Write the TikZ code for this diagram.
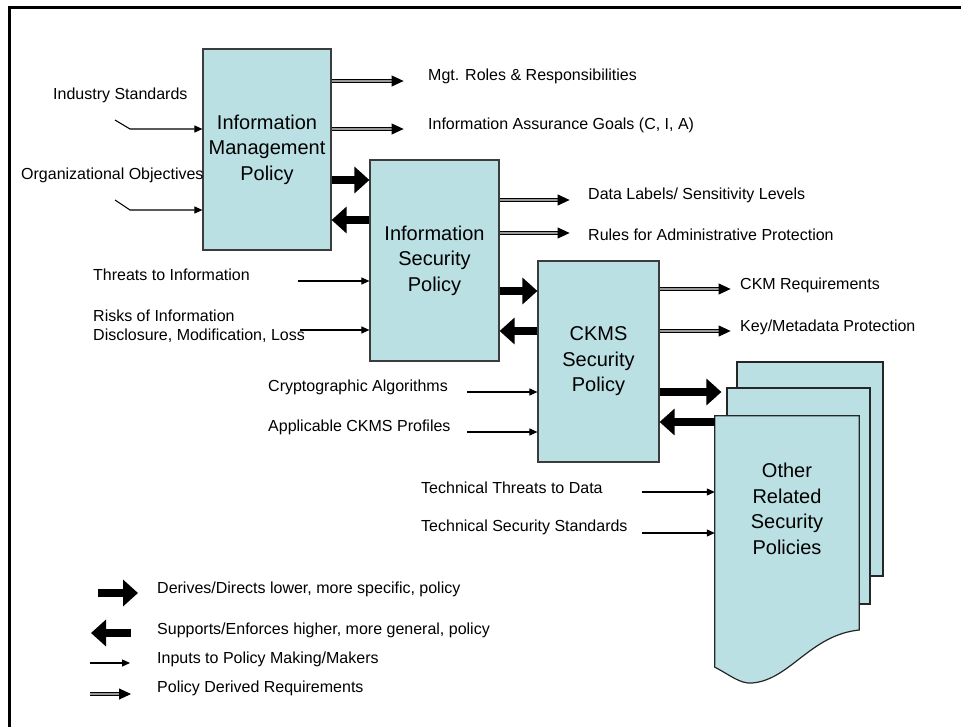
\documentclass[tikz,border=0pt]{standalone}
\usepackage{fontspec}
\setmainfont{Liberation Sans}
\usetikzlibrary{arrows.meta}
\definecolor{policyfill}{RGB}{187,224,227}
\definecolor{policyline}{RGB}{60,60,60}
\tikzset{
  policy/.style={draw=policyline,line width=1.2pt,fill=policyfill,align=center,inner sep=0pt,font=\fontsize{20}{25.5}\selectfont},
  page/.style={draw=black!85,line width=1.2pt,fill=policyfill,inner sep=0pt},
  lbl/.style={anchor=west,inner sep=0pt,align=left,font=\fontsize{16}{19}\selectfont},
  derive/.style={line width=8.5pt,-{Triangle[length=15pt,width=26pt]}},
  input/.style={line width=1.1pt,-{Triangle[length=8pt,width=7pt]}},
  req/.style={double=black!40,double distance=1.6pt,line width=0.9pt,-{Triangle[length=12pt,width=11pt]}}
}
\begin{document}
\begin{tikzpicture}[x=1pt,y=-1pt]
      \useasboundingbox (0,0) rectangle (961,727);
      \fill[white] (0,0) rectangle (961,727);
      \clip (0,0) rectangle (961,727);
      \draw[line width=3pt] (9,8) rectangle (1000,770);

      \node[policy,minimum width=128pt,minimum height=201pt] (imp) at (267,149.5) {Information\\Management\\Policy};
      \node[policy,minimum width=129pt,minimum height=201pt] (isp) at (434.5,260.5) {Information\\Security\\Policy};
      \node[policy,minimum width=121pt,minimum height=201pt] (ckms) at (598.5,361.5) {CKMS\\Security\\Policy};

      \node[page,minimum width=146pt,minimum height=214pt] (back) at (810,469) {};
      \node[page,minimum width=143pt,minimum height=216pt] (mid) at (798.5,496) {};
      \node[inner sep=0pt,minimum width=144pt,minimum height=251pt] (front) at (787,541.5) {};
      \filldraw[draw=black!85,line width=1.2pt,fill=policyfill] (front.south west) -- (front.north west) -- (front.north east) -- (front.east |- 0,630)
        .. controls (810,635) and (790,680) .. (752,683) .. controls (740,684) and (730,675) .. (front.south west) -- cycle;
      \node[align=center,font=\fontsize{20}{25.5}\selectfont] (other) at (787,509) {Other\\Related\\Security\\Policies};

      \node[lbl] (indstd) at (53,95) {Industry Standards};
      \node[lbl] (orgobj) at (21,175) {Organizational Objectives};
      \node[lbl] (threats) at (93,275) {Threats to Information};
      \node[lbl] (risks) at (93,326.5) {Risks of Information\\Disclosure, Modification, Loss};
      \node[lbl] (crypto) at (268,387) {Cryptographic Algorithms};
      \node[lbl] (profiles) at (268,427) {Applicable CKMS Profiles};
      \node[lbl] (techthr) at (421,488) {Technical Threats to Data};
      \node[lbl] (techstd) at (421,527) {Technical Security Standards};

      \node[lbl] (mgt) at (428,76) {Mgt. Roles \& Responsibilities};
      \node[lbl] (goals) at (428,125) {Information Assurance Goals (C, I, A)};
      \node[lbl] (labels) at (588,195) {Data Labels/ Sensitivity Levels};
      \node[lbl] (rules) at (588,235) {Rules for Administrative Protection};
      \node[lbl] (ckmreq) at (740,285) {CKM Requirements};
      \node[lbl] (keyprot) at (740,327) {Key/Metadata Protection};

      \node[lbl] (lgderive) at (157,589) {Derives/Directs lower, more specific, policy};
      \node[lbl] (lgsupport) at (157,630) {Supports/Enforces higher, more general, policy};
      \node[lbl] (lginput) at (157,659) {Inputs to Policy Making/Makers};
      \node[lbl] (lgreq) at (157,688) {Policy Derived Requirements};

      \coordinate (indin) at (115,120);
      \coordinate (orgin) at (115,200);
      \coordinate (thrin) at (298,281);
      \coordinate (riskin) at (300,330);
      \coordinate (cryin) at (467,392);
      \coordinate (proin) at (467,432);
      \coordinate (tthrin) at (642,492);
      \coordinate (tstdin) at (642,533);

      \draw[input] (indin) -- ++(15,9) -- (imp.west |- 0,129);
      \draw[input] (orgin) -- ++(15,10) -- (imp.west |- 0,210);
      \draw[input] (thrin) -- (isp.west |- thrin);
      \draw[input] (riskin) -- (isp.west |- riskin);
      \draw[input] (cryin) -- (ckms.west |- cryin);
      \draw[input] (proin) -- (ckms.west |- proin);
      \draw[input] (tthrin) -- (front.west |- tthrin);
      \draw[input] (tstdin) -- (front.west |- tstdin);

      \draw[derive] (imp.east |- 0,180) -- (isp.west |- 0,180);
      \draw[derive] (isp.west |- 0,220) -- (imp.east |- 0,220);
      \draw[derive] (isp.east |- 0,291) -- (ckms.west |- 0,291);
      \draw[derive] (ckms.west |- 0,331) -- (isp.east |- 0,331);
      \draw[derive] (ckms.east |- 0,392) -- ([xshift=-5pt]mid.west |- 0,392);
      \draw[derive] (front.west |- 0,422) -- (ckms.east |- 0,422);

      \draw[req] (imp.east |- 0,81) -- ++(72,0);
      \draw[req] (imp.east |- 0,129) -- ++(72,0);
      \draw[req] (isp.east |- 0,200) -- ++(70,0);
      \draw[req] (isp.east |- 0,233) -- ++(70,0);
      \draw[req] (ckms.east |- 0,289) -- ++(71,0);
      \draw[req] (ckms.east |- 0,331) -- ++(71,0);

      \draw[derive] (lgderive.west) ++(-59,4) -- ++(40,0);
      \draw[derive] (lgsupport.west) ++(-26,3) -- ++(-40,0);
      \draw[input] (lginput.west) ++(-67,4) -- ++(40,0);
      \draw[req] (lgreq.west) ++(-67,6) -- ++(41,0);
    \end{tikzpicture}
\end{document}
